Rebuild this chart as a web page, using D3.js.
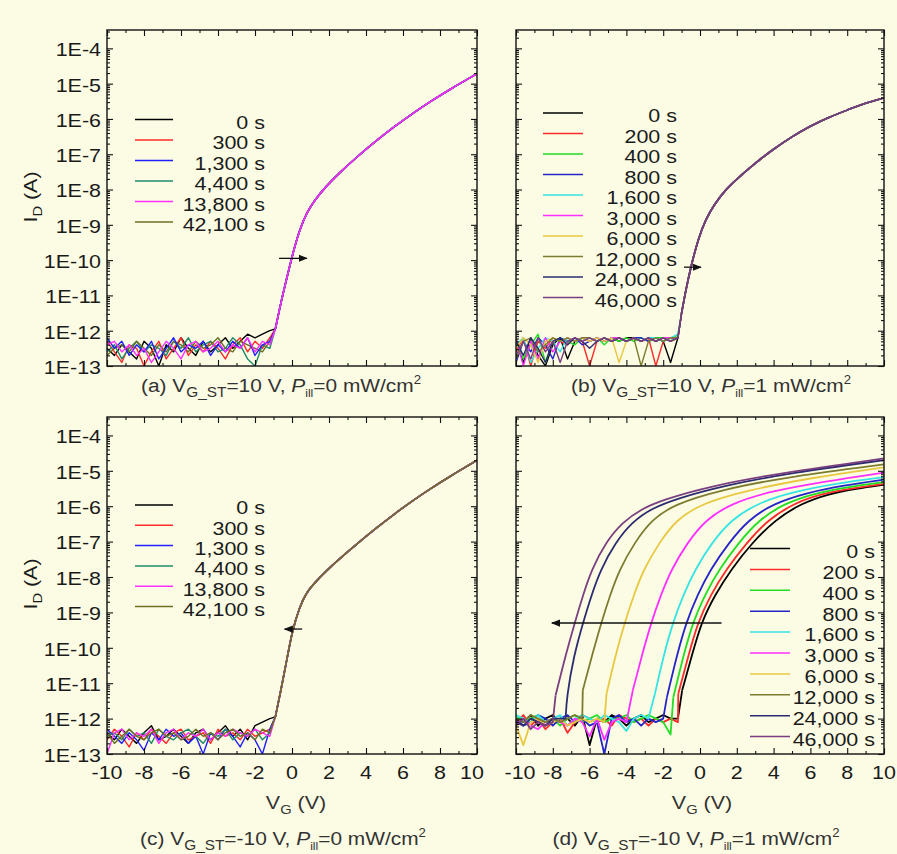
<!DOCTYPE html>
<html><head><meta charset="utf-8">
<script src="https://cdn.jsdelivr.net/npm/d3@7"></script>
<style>
body{margin:0;background:#fcfce4}
svg{display:block}
text{font-family:"Liberation Sans",Arial,Helvetica,sans-serif;fill:#1a1a1a}
</style>
</head><body>
<svg id="chart" width="897" height="854"></svg>
<script>
// ---------------- data ----------------
const noiseV = [-10,-9.6,-9.2,-8.8,-8.4,-8,-7.6,-7.2,-6.8,-6.4,-6,-5.6,-5.2,-4.8,-4.4,-4,-3.6,-3.2,-2.8,-2.4,-2,-1.6,-1.2];
const xTickValues = [-10,-8,-6,-4,-2,0,2,4,6,8,10];
const yTickLabels = ["1E-4","1E-5","1E-6","1E-7","1E-8","1E-9","1E-10","1E-11","1E-12","1E-13"];
const yTickValues = [1e-4,1e-5,1e-6,1e-7,1e-8,1e-9,1e-10,1e-11,1e-12,1e-13];

const labelsAC = ["0 s","300 s","1,300 s","4,400 s","13,800 s","42,100 s"];
const colorsAC = ["#000000","#ff2a2a","#2020ff","#1f8a6a","#ff30ff","#6e6e22"];
const labelsBD = ["0 s","200 s","400 s","800 s","1,600 s","3,000 s","6,000 s","12,000 s","24,000 s","46,000 s"];
const colorsBD = ["#000000","#ff2a2a","#22dd22","#2424c8","#35e4e4","#ff30ff","#e8c840","#7c7c30","#2c2c70","#7a3f80"];

// panel (a): log10(I_D) noise on noiseV grid, then rise [V, log10 I]
const noiseA = [
 [-12.5,-12.7,-12.4,-12.6,-12.8,-12.3,-12.5,-13.0,-12.4,-12.6,-12.2,-12.5,-12.7,-12.3,-12.6,-12.4,-12.2,-12.5,-12.3,-12.1,-12.2,-12.1,-12.0],
 [-12.3,-12.6,-12.9,-12.4,-12.5,-13.0,-12.6,-12.3,-12.8,-12.5,-12.2,-12.7,-12.4,-12.6,-12.3,-12.5,-12.8,-12.4,-12.2,-12.6,-12.3,-12.5,-12.2],
 [-12.2,-12.5,-12.3,-12.7,-12.4,-12.6,-12.3,-12.8,-12.5,-12.2,-12.6,-12.4,-12.5,-12.3,-12.7,-12.4,-12.6,-12.3,-12.5,-12.2,-12.7,-12.4,-12.3],
 [-12.6,-12.4,-12.8,-12.5,-12.3,-12.6,-12.4,-12.5,-12.7,-12.3,-12.5,-12.2,-12.6,-12.4,-12.3,-12.6,-12.5,-12.2,-12.4,-12.8,-13.0,-12.4,-12.5],
 [-12.4,-12.3,-12.6,-12.4,-12.7,-12.5,-12.9,-12.6,-12.3,-12.5,-12.8,-12.4,-12.3,-12.6,-12.5,-12.3,-12.6,-12.4,-12.5,-12.2,-12.6,-12.3,-12.4],
 [-12.7,-12.5,-12.4,-12.6,-12.3,-12.5,-12.7,-12.4,-12.6,-12.3,-12.4,-12.6,-12.3,-12.5,-12.4,-12.2,-12.5,-12.6,-12.3,-12.4,-12.5,-12.6,-12.3]
];
const riseA = [[-0.9,-11.95],[-0.6,-11.2],[-0.3,-10.55],[0,-9.9],[0.4,-9.15],[0.8,-8.65],[1.2,-8.32],[1.8,-7.93],[2.6,-7.51],[3.5,-7.08],[4.5,-6.64],[5.5,-6.23],[6.5,-5.85],[7.5,-5.5],[8.5,-5.17],[10,-4.72]];

// panel (b)
const noiseB = [
 [-12.3,-12.9,-12.2,-12.7,-13.0,-12.4,-12.2,-12.8,-12.3,-12.2,-12.3,-12.2,-12.3,-12.2,-12.3,-12.2,-12.2,-12.3,-12.2,-12.2,-12.3,-12.9,-12.2],
 [-12.6,-12.2,-13.0,-12.3,-12.5,-12.2,-12.3,-12.4,-12.2,-12.3,-13.0,-12.3,-12.2,-12.3,-12.2,-12.3,-12.2,-12.3,-12.2,-13.0,-12.3,-12.2,-12.2],
 [-12.2,-12.8,-12.4,-12.1,-12.9,-12.3,-12.2,-12.3,-12.4,-12.2,-12.3,-12.2,-12.4,-12.2,-12.3,-12.2,-12.3,-12.2,-12.3,-12.2,-12.2,-12.3,-12.1],
 [-12.9,-12.3,-12.6,-12.2,-12.4,-12.8,-12.2,-12.3,-12.2,-12.4,-12.3,-12.2,-12.3,-12.2,-12.2,-12.3,-12.2,-12.2,-12.3,-12.2,-12.3,-12.2,-12.2],
 [-12.4,-12.2,-12.9,-12.5,-12.2,-12.3,-12.6,-12.2,-12.3,-12.2,-12.2,-12.3,-12.2,-12.3,-12.2,-12.3,-12.2,-12.3,-12.2,-12.2,-12.3,-12.2,-12.1],
 [-12.2,-13.0,-12.3,-12.8,-12.2,-12.6,-12.3,-12.2,-12.3,-12.2,-12.3,-12.2,-12.3,-12.2,-12.2,-12.3,-12.2,-12.3,-12.2,-12.3,-12.2,-12.2,-12.2],
 [-12.5,-12.2,-12.4,-12.9,-12.3,-12.2,-12.3,-12.2,-12.3,-12.2,-12.3,-12.2,-12.3,-12.2,-12.9,-12.3,-12.2,-12.3,-12.2,-12.3,-12.2,-12.3,-12.2],
 [-12.8,-12.3,-12.2,-12.6,-12.4,-12.2,-12.3,-12.2,-12.3,-12.2,-12.2,-12.3,-12.2,-12.3,-12.2,-12.3,-12.2,-13.0,-12.3,-12.2,-12.3,-12.2,-12.2],
 [-12.3,-12.7,-12.2,-12.5,-12.9,-12.3,-12.2,-12.4,-12.2,-12.3,-12.5,-12.3,-12.2,-12.3,-12.2,-12.3,-12.2,-12.3,-12.2,-12.3,-12.2,-12.3,-12.2],
 [-12.7,-12.3,-12.8,-12.2,-12.6,-12.3,-12.9,-12.3,-12.2,-12.3,-12.2,-12.3,-12.2,-12.3,-12.2,-12.3,-12.2,-12.3,-12.2,-12.3,-12.2,-12.3,-12.2]
];
const riseB = [[-1.0,-11.5],[-0.75,-10.8],[-0.5,-10.2],[-0.1,-9.4],[0.3,-8.85],[0.8,-8.4],[1.4,-8.0],[2,-7.7],[3,-7.25],[4,-6.85],[5,-6.5],[6,-6.2],[7,-5.95],[8,-5.75],[9,-5.55],[10,-5.4]];

// panel (c)
const noiseC = [
 [-12.4,-12.6,-12.3,-12.5,-12.7,-12.4,-12.2,-12.6,-12.5,-12.3,-12.5,-12.7,-12.4,-12.3,-12.6,-12.4,-12.2,-12.5,-12.3,-12.6,-12.2,-12.1,-12.0],
 [-12.6,-12.3,-12.5,-12.8,-12.4,-12.6,-12.3,-12.5,-12.7,-12.4,-12.3,-12.6,-12.5,-12.4,-12.7,-12.3,-12.5,-12.4,-12.6,-12.3,-12.5,-12.4,-12.3],
 [-12.3,-12.5,-12.7,-12.4,-12.6,-12.9,-12.4,-12.6,-12.3,-12.5,-12.4,-12.7,-12.5,-13.0,-12.4,-12.6,-12.3,-12.5,-12.8,-12.4,-12.6,-13.0,-12.3],
 [-12.5,-12.4,-12.6,-12.3,-12.5,-12.4,-12.7,-12.3,-12.5,-12.6,-12.4,-12.3,-12.5,-12.7,-12.4,-12.5,-12.3,-12.6,-12.4,-12.5,-12.3,-12.6,-12.4],
 [-13.0,-12.4,-12.3,-12.6,-12.4,-12.5,-12.3,-12.7,-12.4,-12.3,-12.6,-12.4,-12.5,-12.3,-12.6,-12.4,-12.5,-12.3,-12.4,-12.5,-12.3,-12.4,-12.5],
 [-12.4,-12.7,-12.5,-12.3,-12.5,-12.6,-12.4,-12.3,-12.5,-12.4,-12.6,-12.5,-12.3,-12.5,-12.4,-12.6,-12.4,-12.3,-12.5,-12.4,-12.6,-12.3,-12.4]
];
const riseC = [[-0.9,-11.95],[-0.6,-11.2],[-0.3,-10.4],[0,-9.55],[0.4,-8.85],[0.8,-8.42],[1.2,-8.18],[1.8,-7.85],[2.6,-7.47],[3.5,-7.07],[4.5,-6.64],[5.5,-6.23],[6.5,-5.85],[7.5,-5.5],[8.5,-5.17],[10,-4.7]];

// panel (d): floor (on noiseV grid, truncated) then rise per series
const floorD = [
 [-12.0,-12.1,-11.9,-12.2,-12.0,-11.9,-12.1,-12.0,-12.2,-11.9,-12.75,-12.0,-12.1,-11.9,-12.0,-12.2,-12.0,-11.9,-12.1,-12.0,-11.9,-12.0,-12.0],
 [-12.1,-11.9,-12.2,-12.0,-12.3,-12.1,-12.0,-12.4,-12.1,-11.9,-12.0,-12.1,-12.0,-12.2,-11.9,-12.0,-12.1,-12.0,-12.2,-12.0,-12.1,-12.0,-12.1],
 [-11.9,-12.1,-12.0,-11.9,-12.1,-12.0,-12.2,-12.0,-11.9,-12.1,-12.0,-11.9,-12.1,-12.0,-12.0,-11.9,-12.1,-12.0,-11.9,-12.0,-12.1,-12.45],
 [-12.0,-12.2,-12.1,-11.9,-12.0,-12.2,-12.0,-11.9,-12.1,-12.0,-12.2,-12.1,-13.0,-12.0,-11.9,-12.1,-12.0,-12.2,-12.0,-12.1,-12.0],
 [-11.9,-12.0,-12.1,-11.9,-12.1,-12.0,-11.9,-12.2,-12.0,-11.9,-12.0,-12.1,-11.9,-12.0,-12.1,-12.35,-12.0,-11.9,-12.0],
 [-12.1,-12.0,-12.2,-12.3,-12.1,-12.0,-12.1,-12.2,-12.0,-12.1,-12.5,-12.0,-12.6,-12.1,-12.0,-12.1],
 [-12.2,-12.75,-12.1,-12.0,-12.2,-12.1,-12.0,-12.2,-12.1,-12.0,-12.1,-12.0,-12.1],
 [-12.0,-12.1,-11.9,-12.0,-12.1,-12.0,-12.1,-12.0,-11.9,-12.0],
 [-12.1,-12.2,-12.0,-12.1,-12.2,-12.0,-12.0],
 [-12.2,-12.0,-12.3,-12.1,-12.2,-12.1]
];
const riseD = [
 [[-0.97,-11.2],[-0.43,-10.2],[0.07,-9.28],[0.82,-8.5],[1.7,-7.78],[2.8,-7.05],[4.1,-6.38],[5.5,-5.92],[7,-5.65],[8.5,-5.5],[10,-5.39]],
 [[-1.18,-11.3],[-0.62,-10.2],[-0.12,-9.28],[0.59,-8.5],[1.4,-7.8],[2.54,-7.03],[3.7,-6.38],[5.1,-5.92],[6.6,-5.65],[8.3,-5.49],[10,-5.37]],
 [[-1.45,-11.4],[-0.89,-10.2],[-0.39,-9.28],[0.27,-8.5],[1.02,-7.8],[2.1,-7.03],[3.21,-6.38],[4.6,-5.92],[6.2,-5.64],[8,-5.46],[10,-5.32]],
 [[-1.8,-11.4],[-1.25,-10.2],[-0.75,-9.28],[-0.13,-8.5],[0.55,-7.8],[1.57,-7.03],[2.64,-6.38],[4.0,-5.92],[5.8,-5.62],[7.8,-5.41],[10,-5.25]],
 [[-2.45,-11.3],[-1.97,-10.2],[-1.47,-9.28],[-0.9,-8.5],[-0.28,-7.8],[0.64,-7.03],[1.7,-6.38],[3.1,-5.92],[5,-5.6],[7.5,-5.35],[10,-5.18]],
 [[-3.65,-11.2],[-3.15,-10.2],[-2.65,-9.28],[-2.12,-8.5],[-1.57,-7.8],[-0.69,-7.03],[0.31,-6.38],[1.7,-5.92],[3.8,-5.58],[6.8,-5.3],[10,-5.05]],
 [[-5.08,-11.3],[-4.59,-10.2],[-4.09,-9.28],[-3.59,-8.5],[-3.08,-7.8],[-2.22,-7.03],[-1.28,-6.38],[0.1,-5.92],[2.5,-5.56],[6,-5.2],[10,-4.9]],
 [[-6.37,-11.2],[-5.86,-10.2],[-5.36,-9.28],[-4.88,-8.5],[-4.39,-7.8],[-3.56,-7.03],[-2.62,-6.38],[-1.4,-5.95],[1,-5.55],[5,-5.15],[10,-4.82]],
 [[-7.3,-12.0],[-7.25,-11.4],[-6.85,-10.2],[-6.35,-9.28],[-5.89,-8.5],[-5.41,-7.8],[-4.6,-7.03],[-3.7,-6.45],[-2.6,-6.05],[-1.2,-5.78],[1.0,-5.45],[5,-5.05],[10,-4.7]],
 [[-7.85,-11.35],[-7.3,-10.2],[-6.8,-9.28],[-6.35,-8.5],[-5.9,-7.8],[-5.1,-7.0],[-4.2,-6.45],[-3.2,-6.08],[-2,-5.82],[0.4,-5.45],[4.5,-5.05],[10,-4.65]]
];

// shift arrows [Vstart, Vend, log10 I]
const arrowA = [-0.7, 0.8, -9.95];
const arrowB = [-0.87, 0.05, -10.2];
const arrowC = [0.55, -0.4, -9.47];
const arrowD = [1.17, -8.05, -9.3];

// ---------------- drawing ----------------
const svg = d3.select("#chart");
svg.append("rect").attr("width",897).attr("height",854).attr("fill","#fcfce4");
const defs = svg.append("defs");
defs.append("marker").attr("id","ah").attr("viewBox","0 0 10 10").attr("refX",9).attr("refY",5)
  .attr("markerWidth",7).attr("markerHeight",7).attr("orient","auto-start-reverse")
  .append("path").attr("d","M0,1 L10,5 L0,9 Z").attr("fill","#111");

const SX = 1.13, FS = 19;
function txt(g, x, y, s, anchor, opts={}) {
  return g.append("text")
    .attr("transform", `translate(${x},${y}) scale(${opts.sx||SX},1)`)
    .attr("text-anchor", anchor)
    .attr("dy", "0.36em")
    .style("font-size", (opts.size||FS)+"px")
    .style("fill", opts.fill||"#1a1a1a")
    .text(s);
}

const yTop = Math.pow(10,-3.48);
let clipId = 0;
function panel(box, opt) {
  const [x0,x1,y0,y1] = box;
  const x = d3.scaleLinear().domain([-10,10]).range([x0,x1]);
  const y = d3.scaleLog().domain([1e-13,yTop]).range([y1,y0]);
  const g = svg.append("g");
  const id = "clip"+(clipId++);
  defs.append("clipPath").attr("id",id).append("rect").attr("x",x0).attr("y",y0).attr("width",x1-x0).attr("height",y1-y0);
  const plot = g.append("g").attr("clip-path",`url(#${id})`);

  const lin = d3.line().x(d=>x(d[0])).y(d=>y(Math.pow(10,d[1])));
  const smooth = d3.line().x(d=>x(d[0])).y(d=>y(Math.pow(10,d[1]))).curve(d3.curveBasis);

  const order = opt.order || opt.series.map((s,i)=>i);
  order.forEach(i=>{
    const s = opt.series[i];
    const floorPts = s.floor.map((v,k)=>[noiseV[k], v]);
    const first = s.rise[0];
    plot.append("path").attr("d", lin(floorPts.concat([first])))
      .attr("fill","none").attr("stroke",opt.colors[i]).attr("stroke-width",opt.lw||1.4).attr("stroke-linejoin","round");
    plot.append("path").attr("d", smooth(s.rise))
      .attr("fill","none").attr("stroke",opt.colors[i]).attr("stroke-width",opt.lw||1.6);
  });

  // arrow
  const a = opt.arrow;
  g.append("line").attr("x1",x(a[0])).attr("x2",x(a[1])).attr("y1",y(Math.pow(10,a[2]))).attr("y2",y(Math.pow(10,a[2])))
    .attr("stroke","#111").attr("stroke-width",1.3).attr("marker-end","url(#ah)");

  // axes ticks
  const minorY = [];
  for (let e=-13;e<=-4;e++) for (let m=2;m<=9;m++){ const v=m*Math.pow(10,e); if (v<yTop) minorY.push(v);}
  const minorX = [-9,-7,-5,-3,-1,1,3,5,7,9];
  const tickStyle = sel => { sel.select(".domain").remove(); sel.selectAll("line").attr("stroke","#111").attr("stroke-width",1.1); sel.selectAll("text").remove(); };
  g.append("g").attr("transform",`translate(${x0},0)`).call(d3.axisLeft(y).tickValues(yTickValues).tickSize(-6).tickSizeOuter(0)).call(tickStyle);
  g.append("g").attr("transform",`translate(${x0},0)`).call(d3.axisLeft(y).tickValues(minorY).tickSize(-3).tickSizeOuter(0)).call(tickStyle);
  g.append("g").attr("transform",`translate(${x1},0)`).call(d3.axisRight(y).tickValues(yTickValues).tickSize(-6).tickSizeOuter(0)).call(tickStyle);
  g.append("g").attr("transform",`translate(${x1},0)`).call(d3.axisRight(y).tickValues(minorY).tickSize(-3).tickSizeOuter(0)).call(tickStyle);
  g.append("g").attr("transform",`translate(0,${y0})`).call(d3.axisTop(x).tickValues(xTickValues).tickSize(-6).tickSizeOuter(0)).call(tickStyle);
  g.append("g").attr("transform",`translate(0,${y0})`).call(d3.axisTop(x).tickValues(minorX).tickSize(-3).tickSizeOuter(0)).call(tickStyle);
  g.append("g").attr("transform",`translate(0,${y1})`).call(d3.axisBottom(x).tickValues(xTickValues).tickSize(-6).tickSizeOuter(0)).call(tickStyle);
  g.append("g").attr("transform",`translate(0,${y1})`).call(d3.axisBottom(x).tickValues(minorX).tickSize(-3).tickSizeOuter(0)).call(tickStyle);

  g.append("rect").attr("x",x0).attr("y",y0).attr("width",x1-x0).attr("height",y1-y0)
    .attr("fill","none").attr("stroke","#111").attr("stroke-width",1.4);

  // y tick labels (left panels only)
  if (opt.yLabels) yTickValues.forEach((v,i)=> txt(g, x0-6, y(v)+1, yTickLabels[i], "end"));
  // x tick labels (bottom panels only)
  if (opt.xLabels) xTickValues.forEach((v,i)=> {
    let dx = 0;
    if (opt.xLabelNudge && i===0) dx = opt.xLabelNudge[0];
    if (opt.xLabelNudge && i===xTickValues.length-1) dx = opt.xLabelNudge[1];
    txt(g, x(v)+dx, y1+18, String(v), "middle");
  });

  // legend
  const L = opt.legend;
  opt.labels.forEach((lab,i)=>{
    const cy = L.y + i*L.step;
    g.append("line").attr("x1",L.lx0).attr("x2",L.lx1).attr("y1",cy-2.5).attr("y2",cy-2.5)
      .attr("stroke",opt.colors[i]).attr("stroke-width",1.5);
    txt(g, L.tx, cy, lab, "end");
  });
  return {x,y,g};
}

const seriesA = noiseA.map(n=>({floor:n, rise:riseA}));
const seriesB = noiseB.map(n=>({floor:n, rise:riseB}));
const seriesC = noiseC.map(n=>({floor:n, rise:riseC}));
const seriesD = floorD.map((f,i)=>({floor:f, rise:riseD[i]}));

panel([107,477,30,366], {series:seriesA, colors:colorsAC, labels:labelsAC, arrow:arrowA, yLabels:true,
  order:[0,1,3,5,2,4], legend:{y:122, step:20.5, lx0:135, lx1:173, tx:265}});
panel([516,884,30,366], {series:seriesB, colors:colorsBD, labels:labelsBD, arrow:arrowB,
  legend:{y:115.5, step:20.5, lx0:543, lx1:583, tx:677}});
panel([107,477,417,754], {series:seriesC, colors:colorsAC, labels:labelsAC, arrow:arrowC, xLabels:true, yLabels:true,
  xLabelNudge:[0,-5], legend:{y:507.5, step:20.3, lx0:135, lx1:173, tx:265}});
panel([516,884,417,754], {series:seriesD, colors:colorsBD, labels:labelsBD, arrow:arrowD, xLabels:true, lw:1.8,
  xLabelNudge:[4,0], legend:{y:551, step:20.9, lx0:750, lx1:790, tx:875}});

// axis titles
function yTitle(cx, cy) {
  const t = svg.append("text").attr("transform",`translate(${cx},${cy}) rotate(-90) scale(${SX},1)`)
    .attr("text-anchor","middle").attr("dy","0.36em").style("font-size",FS+"px");
  t.append("tspan").text("I");
  t.append("tspan").attr("dy","5").style("font-size","13px").text("D");
  t.append("tspan").attr("dy","-5").text(" (A)");
}
yTitle(30, 197);
yTitle(30, 584);
function xTitle(cx, cy) {
  const t = svg.append("text").attr("transform",`translate(${cx},${cy}) scale(${SX},1)`)
    .attr("text-anchor","middle").attr("dy","0.36em").style("font-size",FS+"px").style("fill","#333");
  t.append("tspan").text("V");
  t.append("tspan").attr("dy","5").style("font-size","13px").text("G");
  t.append("tspan").attr("dy","-5").text(" (V)");
}
xTitle(296, 802);
xTitle(702, 802);

function caption(cx, cy, letter, vst, pill) {
  const t = svg.append("text").attr("transform",`translate(${cx},${cy}) scale(1.1,1)`)
    .attr("text-anchor","middle").attr("dy","0.36em").style("font-size","19px").style("fill","#333");
  t.append("tspan").text(`(${letter}) V`);
  t.append("tspan").attr("dy","5").style("font-size","14px").text("G_ST");
  t.append("tspan").attr("dy","-5").text(`=${vst} V, `);
  t.append("tspan").style("font-style","italic").text("P");
  t.append("tspan").attr("dy","5").style("font-size","11px").text("ill");
  t.append("tspan").attr("dy","-5").text(`=${pill} mW/cm`);
  t.append("tspan").attr("dy","-8").style("font-size","12px").text("2");
}
caption(281, 385, "a", "10", "0");
caption(711, 385, "b", "10", "1");
caption(283, 838, "c", "-10", "0");
caption(696, 838, "d", "-10", "1");
</script>
</body></html>
